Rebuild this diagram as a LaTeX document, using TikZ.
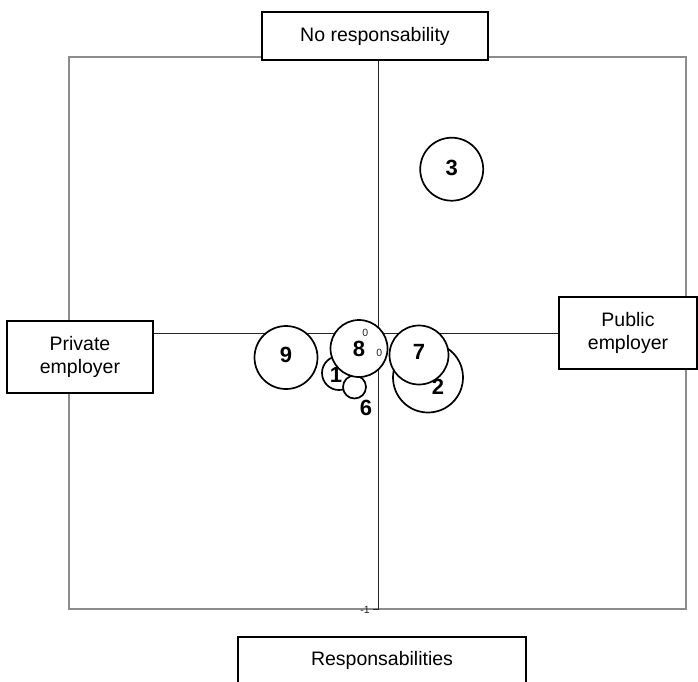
\documentclass[tikz,border=0pt]{standalone}
\usepackage{fontspec}
\setmainfont{Liberation Sans}
\begin{document}
\begin{tikzpicture}[x=1pt,y=-1pt,
  frame/.style={draw=black!45, line width=1.5pt},
  axisline/.style={draw=black!85, line width=1pt},
  polebox/.style={draw=black, line width=1.8pt, fill=white, inner sep=0pt,
    align=center, font=\fontsize{19.5}{23}\selectfont},
  bubble/.style={circle, draw=black, line width=1.7pt, fill=white, inner sep=0pt},
  num/.style={font=\fontsize{22}{26}\selectfont\bfseries, inner sep=0pt},
  ticklab/.style={font=\fontsize{10.5}{12}\selectfont, text=black!85, inner sep=0pt}]
\useasboundingbox (0,0) rectangle (698,681);
\clip (0,0) rectangle (698,681);

% plot frame
\draw[frame] (69,57) rectangle (686,609);

% origin and end of the vertical axis
\coordinate (o) at (378,333);
\coordinate (ybot) at (378,609);
\coordinate (tickend) at (373,609);

% pole labels
\node[polebox, minimum width=226pt, minimum height=48pt] (top) at (375,36) {No responsability};
\node[polebox, minimum width=146pt, minimum height=72pt] (left) at (80,357) {Private\\employer};
\node[polebox, minimum width=138pt, minimum height=72pt] (right) at (628,333) {Public\\employer};
\node[polebox, minimum width=288pt, minimum height=47pt] (bottom) at (382,660.5) {Responsabilities};

% axes
\draw[axisline] (left.east |- o) -- (right.west |- o);
\draw[axisline] (top.south -| o) -- (ybot) -- (tickend);

% bubbles
\node[bubble, minimum size=70pt] (c2) at (428,377.5) {};
\node[num] (n2) at (438,387) {2};
\node[bubble, minimum size=59pt] (c7) at (419,355) {};
\node[num] (n7) at (419,352) {7};
\node[bubble, minimum size=34pt] (c1) at (339,373) {};
\node[num] (n1) at (336,375) {1};
\node[bubble, minimum size=23pt] (c6) at (354.5,387) {};
\node[num] (n6) at (366,408) {6};
\node[bubble, minimum size=57pt] (c8) at (359,348.5) {};
\node[num] (n8) at (359,349) {8};
\node[bubble, minimum size=63pt] (c9) at (286,357.5) {};
\node[num] (n9) at (286,355) {9};
\node[bubble, minimum size=63pt] (c3) at (451.7,169.2) {};
\node[num] (n3) at (451.7,167.5) {3};

% tick labels
\node[ticklab] (t0x) at (365.3,333.3) {0};
\node[ticklab] (t0y) at (379.3,353.3) {0};
\node[ticklab, anchor=east] (tm1) at (370,610) {-1};
\end{tikzpicture}
\end{document}
